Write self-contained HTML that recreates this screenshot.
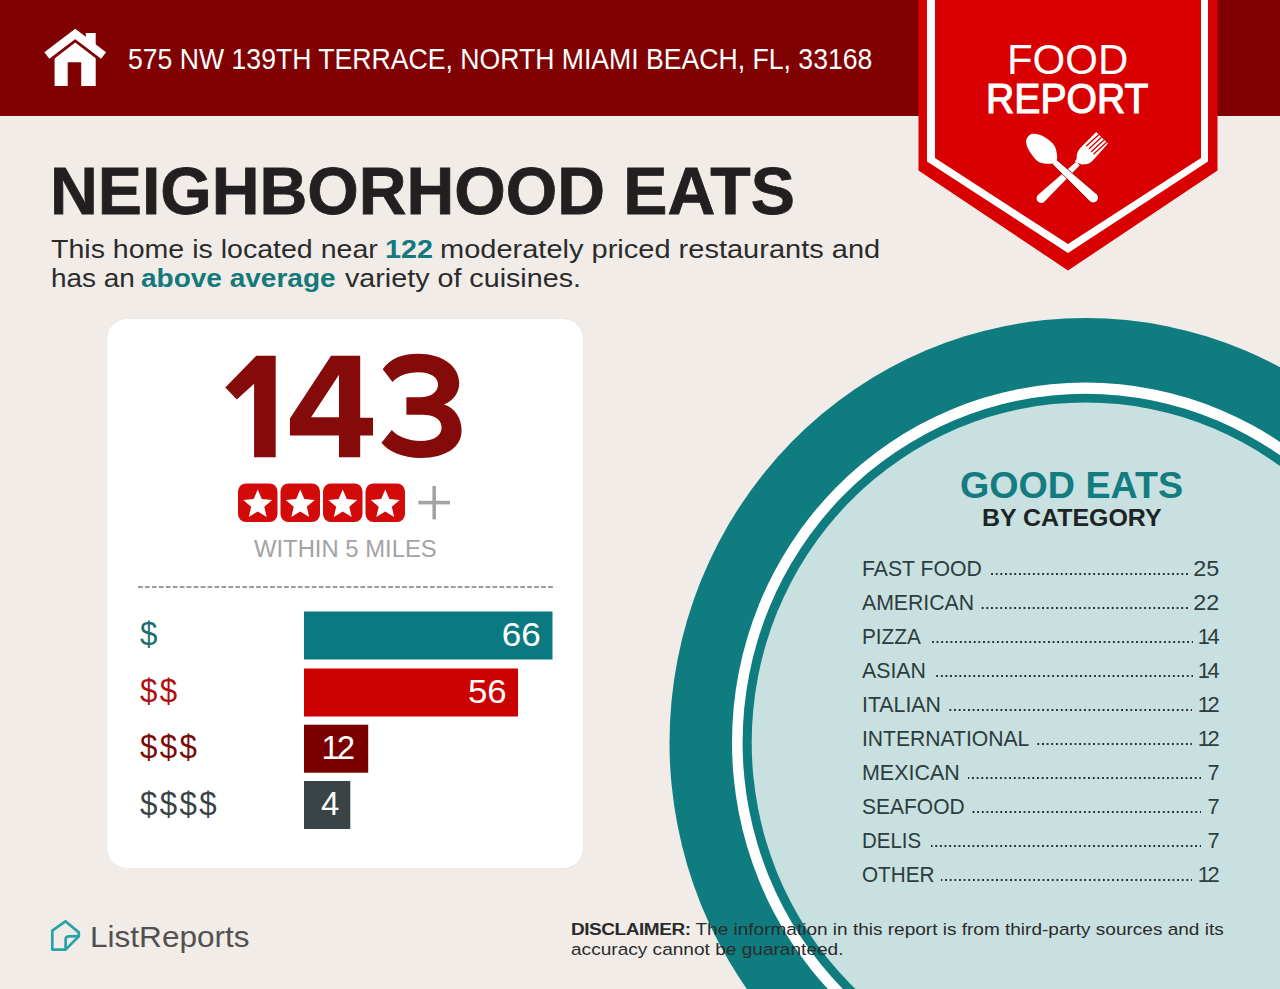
<!DOCTYPE html>
<html><head><meta charset="utf-8">
<style>
html,body{margin:0;padding:0}
body{width:1280px;height:989px;overflow:hidden;background:#f1ece8;position:relative;font-family:"Liberation Sans",sans-serif}
.t{position:absolute;white-space:nowrap;line-height:1;transform-origin:0 0}
svg{position:absolute;left:0;top:0}
.lab,.num{font-size:21.8px;color:#2c3d3d}
.dots{position:absolute;height:2.2px;background-image:linear-gradient(to right,transparent 2.5px,#263030 2.5px);background-size:4.65px 2.2px;background-repeat:repeat-x;background-position:right 0 top 0}
</style></head><body>
<!-- header band -->
<div style="position:absolute;left:0;top:0;width:1280px;height:116px;background:#800101"></div>
<svg width="1280" height="989" viewBox="0 0 1280 989">
  <!-- house -->
  <g fill="#fff">
    <polyline points="46.85,55.4 75.2,33.9 103.6,55.6" fill="none" stroke="#fff" stroke-width="8.2" stroke-linejoin="miter"/>
    <rect x="85.8" y="33" width="9.9" height="12"/>
    <path d="M54.6,58.4 L75.2,42.5 L95.7,58.3 L95.7,86 L81.2,86 L81.2,62.3 L67.7,62.3 L67.7,86 L54.6,86 Z"/>
  </g>
  <!-- banner -->
  <polygon points="918.5,0 918.5,170.5 1068,270.5 1217.5,170.5 1217.5,0" fill="#d80000"/>
  <path d="M927,0 L927,161.5 L1068,253 L1208,161.5 L1208,0 L1201,0 L1201,158 L1068,244 L935,158 L935,0 Z" fill="#fff"/>
  <!-- fork -->
  <path fill="#fff" d="M1074.8,161.6 L1076.6,158.9 C1076.6,154.5 1077.3,151.5 1080.7,147.6 L1096.2,132.1 L1108,143.5 L1093.5,159.8 C1091,162.8 1088.5,164.2 1085,164.3 L1081.6,164.6 Z M1079.72,165.32 L1044.33,201.81 A4.70,4.70 0 0 1 1037.87,194.99 L1076.28,161.68 Z"/>
  <g stroke="#d80000" stroke-width="1.3">
    <line x1="1086.2" y1="146.2" x2="1099" y2="134.4"/>
    <line x1="1088.9" y1="148.9" x2="1101.7" y2="137.1"/>
    <line x1="1091.2" y1="151.7" x2="1104.2" y2="139.7"/>
    <line x1="1093.5" y1="154.2" x2="1106.6" y2="142.2"/>
  </g>
  <!-- spoon -->
  <path d="M1056.40,159.94 L1096.55,194.27 A4.80,4.80 0 0 1 1090.05,201.33 L1052.60,164.06 Z" fill="#fff" stroke="#9a0000" stroke-width="1.2" paint-order="stroke"/>
  <path d="M1026.6,139.1 C1027.4,137.3 1029.3,134.8 1031.6,134.1 C1033.9,133.4 1037.4,134.2 1040.2,135.1 C1043.0,136.0 1045.9,137.8 1048.3,139.6 C1050.7,141.4 1053.0,143.5 1054.4,145.7 C1055.8,147.8 1056.2,150.3 1056.6,152.5 C1057.0,154.7 1057.5,157.2 1057.0,159.0 C1056.5,160.8 1055.7,162.6 1053.5,163.3 C1051.3,164.0 1046.6,163.9 1043.8,163.4 C1041.0,162.9 1039.0,162.2 1036.7,160.4 C1034.4,158.6 1031.8,154.9 1030.1,152.3 C1028.4,149.7 1027.2,146.9 1026.6,144.7 C1026.0,142.5 1025.8,140.9 1026.6,139.1 Z" fill="#fff"/>
  <!-- big circle -->
  <ellipse cx="1085.5" cy="742.5" rx="416" ry="424.5" fill="#0f7c80"/>
  <ellipse cx="1085.5" cy="742.5" rx="353.5" ry="360" fill="#ffffff"/>
  <ellipse cx="1085.5" cy="742.5" rx="342.9" ry="348.8" fill="#0f7c80"/>
  <ellipse cx="1085.5" cy="742.5" rx="333.8" ry="340.1" fill="#c8e0df"/>
</svg>

<!-- header text -->
<span class="t" id="addr" style="left:128px;top:45.3px;font-size:28.6px;color:#fff;transform:scaleX(0.9307)">575 NW 139TH TERRACE, NORTH MIAMI BEACH, FL, 33168</span>
<span class="t" id="food" style="left:1006.9px;top:39.1px;font-size:42px;color:#fff;transform:scaleX(1.0)">FOOD</span>
<span class="t" id="report" style="left:985.6px;top:77.7px;font-size:42px;font-weight:400;color:#fff;-webkit-text-stroke:1.2px #fff;transform:scaleX(0.932)">REPORT</span>

<!-- title -->
<span class="t" id="title" style="left:50px;top:157.7px;font-size:66.5px;font-weight:700;color:#231f20;-webkit-text-stroke:0.8px #231f20;transform:scaleX(0.9947)">NEIGHBORHOOD EATS</span>
<span class="t" id="l1a" style="left:50.7px;top:236px;font-size:26px;font-weight:400;color:#2b2b2b;transform:scaleX(1.0976)">This home is located near</span>
<span class="t" id="l1b" style="left:384.69px;top:236px;font-size:26px;font-weight:700;color:#13797c;transform:scaleX(1.1049)">122</span>
<span class="t" id="l1c" style="left:440.27px;top:236px;font-size:26px;font-weight:400;color:#2b2b2b;transform:scaleX(1.1156)">moderately priced restaurants and</span>
<span class="t" id="l2a" style="left:51px;top:265px;font-size:26px;font-weight:400;color:#2b2b2b;transform:scaleX(1.075)">has an</span>
<span class="t" id="l2b" style="left:141.42px;top:265px;font-size:26px;font-weight:700;color:#13797c;transform:scaleX(1.0771)">above average</span>
<span class="t" id="l2c" style="left:344.7px;top:265px;font-size:26px;font-weight:400;color:#2b2b2b;transform:scaleX(1.1033)">variety of cuisines.</span>

<!-- card -->
<div style="position:absolute;left:107px;top:319px;width:476px;height:549px;background:#fff;border-radius:20px;box-shadow:0 0 1.5px rgba(0,0,0,0.07)"></div>
<svg width="1280" height="989" viewBox="0 0 1280 989"><g fill="#850a0a" fill-rule="evenodd">
<path d="M256.3,355.7 L275.7,355.7 L275.7,457.3 L254.1,457.3 L254.1,383.8 L236.8,399.6 L225.3,387.5 Z"/>
<path d="M331.1,355.7 L360.2,355.7 L360.2,417.8 L373,417.8 L373,435.4 L360.2,435.4 L360.2,457.3 L339,457.3 L339,435.4 L289.9,435.4 L289.9,418.4 Z M339,374.7 L339,417.2 L311.1,417.2 Z"/>
<path d="M382.7,369.3 C390,358 403,353.7 418.5,353.7 C442,353.7 459.2,366 459.2,383 C459.2,393 453,401 444,404.5 C455,408 461.6,418 461.6,430.5 C461.6,447 446,457.9 421,457.9 C402,457.9 388,451 381.5,442.7 L391.8,430 C398,437 409,440.9 421,440.9 C433,440.9 441.6,436 441.6,427.5 C441.6,419 434,414.8 422,414.8 L406.4,414.8 L406.4,397.2 L420,397.2 C431,397.2 438,392 438,384.5 C438,377 430,372.3 418.5,372.3 C407,372.3 398,376 392.5,382 Z"/>
</g></svg>
<svg width="1280" height="989" viewBox="0 0 1280 989">
  <defs>
    <g id="st"><rect x="0" y="0" width="39.5" height="38.5" rx="8" fill="#d30a0a"/>
    <polygon fill="#fff" points="19.75,5.90 23.81,15.52 34.21,16.40 26.31,23.23 28.68,33.40 19.75,28.00 10.82,33.40 13.19,23.23 5.29,16.40 15.69,15.52"/></g>
  </defs>
  <use href="#st" x="238" y="483.5"/>
  <use href="#st" x="280.5" y="483.5"/>
  <use href="#st" x="323" y="483.5"/>
  <use href="#st" x="365.5" y="483.5"/>
  <g stroke="#a3a3a3" stroke-width="3.6"><line x1="418.3" y1="502.6" x2="450" y2="502.6"/><line x1="434.2" y1="486" x2="434.2" y2="519.4"/></g>
  <line x1="138" y1="587" x2="553" y2="587" stroke="#9c9c9c" stroke-width="2" stroke-dasharray="4.8 2.15"/>
  <rect x="304" y="611.5" width="248.5" height="48" fill="#0b7a80"/>
  <rect x="304" y="668.5" width="214" height="48" fill="#cc0000"/>
  <rect x="304" y="724.7" width="64.2" height="48" fill="#7a0000"/>
  <rect x="304" y="781" width="46.3" height="48" fill="#3a4446"/>
</svg>
<span class="t" id="within" style="left:254px;top:538.1px;font-size:23px;color:#a3a3a3;transform:scaleX(1.036)">WITHIN 5 MILES</span>
<span class="t" id="d1" style="left:140px;top:616px;font-size:34px;letter-spacing:2.6px;transform:scaleX(0.92);color:#1a6e70">$</span>
<span class="t" id="d2" style="left:140px;top:673px;font-size:34px;letter-spacing:2.6px;transform:scaleX(0.92);color:#b01010">$$</span>
<span class="t" id="d3" style="left:140px;top:729px;font-size:34px;letter-spacing:2.6px;transform:scaleX(0.92);color:#7a0a0a">$$$</span>
<span class="t" id="d4" style="left:140px;top:786px;font-size:34px;letter-spacing:2.6px;transform:scaleX(0.92);color:#3a4446">$$$$</span>
<span class="t" id="b1" style="left:503.5px;transform-origin:100% 0;transform:scaleX(1.063);top:617.7px;font-size:33px;color:#fff">66</span>
<span class="t" id="b2" style="left:470.2px;transform-origin:100% 0;transform:scaleX(1.055);top:674.7px;font-size:33px;color:#fff">56</span>
<span class="t" id="b3" style="right:924.8px;top:731px;font-size:33px;color:#fff"><span style="letter-spacing:-3px">1</span>2</span>
<span class="t" id="b4" style="left:321px;top:787px;font-size:33px;color:#fff">4</span>

<!-- good eats -->
<span class="t" id="ge" style="left:959.8px;top:466.5px;font-size:37.8px;font-weight:700;color:#137c80;transform:scaleX(0.996)">GOOD EATS</span>
<span class="t" id="bc" style="left:981.7px;top:506px;font-size:24.7px;font-weight:700;color:#1d2424;transform:scaleX(1.0096)">BY CATEGORY</span>

<span class="t lab" id="lab0" style="left:862px;top:557.5px;transform:scaleX(0.9739)">FAST FOOD</span><div class="dots" style="left:990.1px;top:573.4px;width:197.9px"></div><span class="t num" id="num0" style="right:60.5px;transform-origin:100% 0;transform:scaleX(1.07);top:557.5px">25</span>
<span class="t lab" id="lab1" style="left:862px;top:591.5px;transform:scaleX(0.9744)">AMERICAN</span><div class="dots" style="left:981.2px;top:607.4px;width:206.8px"></div><span class="t num" id="num1" style="right:60.5px;transform-origin:100% 0;transform:scaleX(1.07);top:591.5px">22</span>
<span class="t lab" id="lab2" style="left:862px;top:625.5px;transform:scaleX(0.9518)">PIZZA</span><div class="dots" style="left:930.8px;top:641.4px;width:262.7px"></div><span class="t num" id="num2" style="right:60.5px;top:625.5px"><span style="letter-spacing:-2.5px">1</span>4</span>
<span class="t lab" id="lab3" style="left:862px;top:659.5px;transform:scaleX(0.9779)">ASIAN</span><div class="dots" style="left:935.2px;top:675.4px;width:258.3px"></div><span class="t num" id="num3" style="right:60.5px;top:659.5px"><span style="letter-spacing:-2.5px">1</span>4</span>
<span class="t lab" id="lab4" style="left:862px;top:693.5px;transform:scaleX(0.9768)">ITALIAN</span><div class="dots" style="left:948.9px;top:709.4px;width:243.6px"></div><span class="t num" id="num4" style="right:60.5px;top:693.5px"><span style="letter-spacing:-2.5px">1</span>2</span>
<span class="t lab" id="lab5" style="left:862px;top:727.5px;transform:scaleX(0.9683)">INTERNATIONAL</span><div class="dots" style="left:1037.1px;top:743.4px;width:155.4px"></div><span class="t num" id="num5" style="right:60.5px;top:727.5px"><span style="letter-spacing:-2.5px">1</span>2</span>
<span class="t lab" id="lab6" style="left:862px;top:761.5px;transform:scaleX(0.9835)">MEXICAN</span><div class="dots" style="left:968.2px;top:777.4px;width:233.3px"></div><span class="t num" id="num6" style="right:60.5px;top:761.5px">7</span>
<span class="t lab" id="lab7" style="left:862px;top:795.5px;transform:scaleX(0.9629)">SEAFOOD</span><div class="dots" style="left:971.7px;top:811.4px;width:229.8px"></div><span class="t num" id="num7" style="right:60.5px;top:795.5px">7</span>
<span class="t lab" id="lab8" style="left:862px;top:829.5px;transform:scaleX(0.9395)">DELIS</span><div class="dots" style="left:930.8px;top:845.4px;width:270.7px"></div><span class="t num" id="num8" style="right:60.5px;top:829.5px">7</span>
<span class="t lab" id="lab9" style="left:862px;top:863.5px;transform:scaleX(0.9500)">OTHER</span><div class="dots" style="left:940.6px;top:879.4px;width:251.9px"></div><span class="t num" id="num9" style="right:60.5px;top:863.5px"><span style="letter-spacing:-2.5px">1</span>2</span>
<!-- footer -->
<svg width="1280" height="989" viewBox="0 0 1280 989">
  <path d="M65.4,921.3 L52.3,930.7 L52.3,949.6 L65.6,949.6 L78.8,936.2 L78.8,932.4 Z" fill="none" stroke="#28a3a8" stroke-width="2.7" stroke-linejoin="round"/>
  <path d="M65.6,949.6 L65.6,939.6 Q65.6,936.3 69,936.3 L78.8,936.2" fill="none" stroke="#28a3a8" stroke-width="2.7" stroke-linejoin="round"/>
</svg>
<span class="t" id="lr" style="left:89.6px;top:922px;font-size:29.8px;color:#555050;transform:scaleX(1.059)">ListReports</span>
<span class="t" id="disc1" style="left:571px;top:920.5px;font-size:17.4px;color:#2b2b2b;transform:scaleX(1.093)"><b style="letter-spacing:-0.42px">DISCLAIMER:</b> The information in this report is from third-party sources and its</span>
<span class="t" id="disc2" style="left:571px;top:941px;font-size:17.4px;color:#2b2b2b;transform:scaleX(1.0967)">accuracy cannot be guaranteed.</span>
</body></html>
